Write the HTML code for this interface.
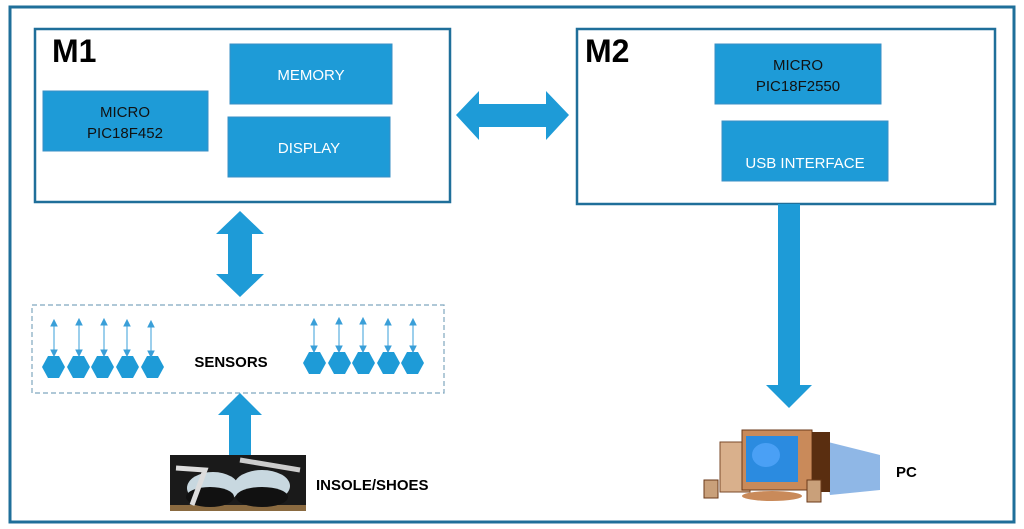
<!DOCTYPE html>
<html><head><meta charset="utf-8"><style>
html,body{margin:0;padding:0;background:#fff;}
svg{display:block;}
text{font-family:"Liberation Sans",sans-serif;}
</style></head><body>
<svg width="1024" height="529" viewBox="0 0 1024 529" xmlns="http://www.w3.org/2000/svg">
<rect x="0" y="0" width="1024" height="529" fill="#fff"/>
<rect x="10" y="7" width="1004" height="515" fill="none" stroke="#1f6f9a" stroke-width="3"/>
<!-- M1 -->
<rect x="35" y="29" width="415" height="173" fill="none" stroke="#1f6f9a" stroke-width="2.5"/>
<text x="52" y="62" font-size="32" font-weight="bold" fill="#000">M1</text>
<rect x="43" y="91" width="165" height="60" fill="#1e9bd7" stroke="#3a8fc4"/>
<text x="125" y="117" font-size="15" text-anchor="middle" fill="#111">MICRO</text>
<text x="125" y="138" font-size="15" text-anchor="middle" fill="#111">PIC18F452</text>
<rect x="230" y="44" width="162" height="60" fill="#1e9bd7" stroke="#3a8fc4"/>
<text x="311" y="80" font-size="15" text-anchor="middle" fill="#fff">MEMORY</text>
<rect x="228" y="117" width="162" height="60" fill="#1e9bd7" stroke="#3a8fc4"/>
<text x="309" y="153" font-size="15" text-anchor="middle" fill="#fff">DISPLAY</text>
<!-- M2 -->
<rect x="577" y="29" width="418" height="175" fill="none" stroke="#1f6f9a" stroke-width="2.5"/>
<text x="585" y="62" font-size="32" font-weight="bold" fill="#000">M2</text>
<rect x="715" y="44" width="166" height="60" fill="#1e9bd7" stroke="#3a8fc4"/>
<text x="798" y="70" font-size="15" text-anchor="middle" fill="#111">MICRO</text>
<text x="798" y="91" font-size="15" text-anchor="middle" fill="#111">PIC18F2550</text>
<rect x="722" y="121" width="166" height="60" fill="#1e9bd7" stroke="#3a8fc4"/>
<text x="805" y="168" font-size="15" text-anchor="middle" fill="#fff">USB INTERFACE</text>
<!-- horizontal double arrow -->
<polygon points="456,115 479,91 479,104 546,104 546,91 569,115 546,140 546,127 479,127 479,140" fill="#1e9bd7"/>
<!-- vertical double arrow -->
<polygon points="240,211 264,234 252,234 252,274 264,274 240,297 216,274 228,274 228,234 216,234" fill="#1e9bd7"/>
<!-- sensors box -->
<rect x="32" y="305" width="412" height="88" fill="none" stroke="#7fa6bf" stroke-width="1.2" stroke-dasharray="5,3"/>
<text x="231" y="367" font-size="15" font-weight="bold" text-anchor="middle" fill="#000">SENSORS</text>
<g fill="#1e9bd7" stroke="#1e9bd7">
<g id="hl">
</g>
</g>
<g fill="#1e9bd7">
<polygon points="42,367 48,356 59,356 65,367 59,378 48,378"/>
<polygon points="67,367 73,356 84,356 90,367 84,378 73,378"/>
<polygon points="91,367 97,356 108,356 114,367 108,378 97,378"/>
<polygon points="116,367 122,356 133,356 139,367 133,378 122,378"/>
<polygon points="141,367 147,356 158,356 164,367 158,378 147,378"/>
<polygon points="303,363 309,352 320,352 326,363 320,374 309,374"/>
<polygon points="328,363 334,352 345,352 351,363 345,374 334,374"/>
<polygon points="352,363 358,352 369,352 375,363 369,374 358,374"/>
<polygon points="377,363 383,352 394,352 400,363 394,374 383,374"/>
<polygon points="401,363 407,352 418,352 424,363 418,374 407,374"/>
</g>
<g stroke="#3a9fd8" stroke-width="1" fill="#3a9fd8">
<line x1="54" y1="323" x2="54" y2="354"/><polygon points="51,326 54,320 57,326"/><polygon points="51,350 54,356 57,350"/>
<line x1="79" y1="322" x2="79" y2="354"/><polygon points="76,325 79,319 82,325"/><polygon points="76,350 79,356 82,350"/>
<line x1="104" y1="322" x2="104" y2="354"/><polygon points="101,325 104,319 107,325"/><polygon points="101,350 104,356 107,350"/>
<line x1="127" y1="323" x2="127" y2="354"/><polygon points="124,326 127,320 130,326"/><polygon points="124,350 127,356 130,350"/>
<line x1="151" y1="324" x2="151" y2="355"/><polygon points="148,327 151,321 154,327"/><polygon points="148,351 151,357 154,351"/>
<line x1="314" y1="322" x2="314" y2="350"/><polygon points="311,325 314,319 317,325"/><polygon points="311,346 314,352 317,346"/>
<line x1="339" y1="321" x2="339" y2="350"/><polygon points="336,324 339,318 342,324"/><polygon points="336,346 339,352 342,346"/>
<line x1="363" y1="321" x2="363" y2="350"/><polygon points="360,324 363,318 366,324"/><polygon points="360,346 363,352 366,346"/>
<line x1="388" y1="322" x2="388" y2="350"/><polygon points="385,325 388,319 391,325"/><polygon points="385,346 388,352 391,346"/>
<line x1="413" y1="322" x2="413" y2="350"/><polygon points="410,325 413,319 416,325"/><polygon points="410,346 413,352 416,346"/>
</g>
<!-- up arrow -->
<polygon points="240,393 262,415 251,415 251,456 229,456 229,415 218,415" fill="#1e9bd7"/>
<!-- shoes image -->
<rect x="170" y="455" width="136" height="56" fill="#1a1a1a"/>
<rect x="170" y="505" width="136" height="6" fill="#8a6a40"/>
<ellipse cx="213" cy="488" rx="26" ry="16" fill="#c8d8e0"/>
<ellipse cx="262" cy="486" rx="28" ry="16" fill="#c8d8e0"/>
<ellipse cx="210" cy="497" rx="24" ry="10" fill="#111"/>
<ellipse cx="262" cy="497" rx="26" ry="10" fill="#111"/>
<path d="M176,468 L205,470 L192,505" stroke="#ddd" stroke-width="5" fill="none"/>
<path d="M240,460 L300,470" stroke="#ccc" stroke-width="5" fill="none"/>
<text x="316" y="490" font-size="15" font-weight="bold" fill="#000">INSOLE/SHOES</text>
<!-- down arrow -->
<polygon points="778,204 800,204 800,385 812,385 789,408 766,385 778,385" fill="#1e9bd7"/>
<!-- PC -->
<polygon points="820,440 880,455 880,490 830,495" fill="#8fb7e6"/>
<rect x="720" y="442" width="30" height="50" fill="#d9b08c" stroke="#7a4a2a"/>
<rect x="742" y="430" width="70" height="60" fill="#c98a5a" stroke="#6b3a1a"/>
<rect x="812" y="432" width="18" height="60" fill="#5a2e10"/>
<rect x="746" y="436" width="52" height="46" fill="#2b8be0"/>
<ellipse cx="766" cy="455" rx="14" ry="12" fill="#4aa0f5"/>
<ellipse cx="772" cy="496" rx="30" ry="5" fill="#c98a5a"/>
<rect x="704" y="480" width="14" height="18" fill="#c9a07a" stroke="#6b3a1a"/>
<rect x="807" y="480" width="14" height="22" fill="#c9a07a" stroke="#6b3a1a"/>
<text x="896" y="477" font-size="15" font-weight="bold" fill="#000">PC</text>
</svg>
</body></html>
